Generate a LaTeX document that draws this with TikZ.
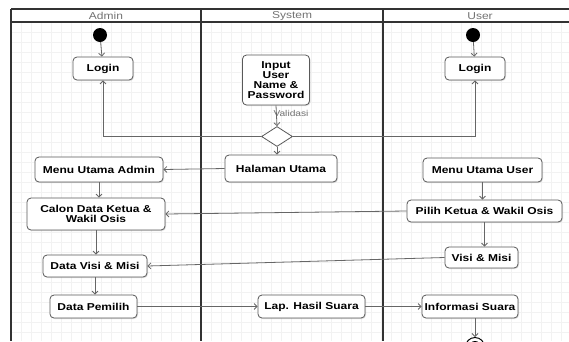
\documentclass[tikz,border=0pt]{standalone}
\usepackage{fontspec}
\setmainfont{Liberation Sans}[FakeStretch=1.2]
\usetikzlibrary{arrows.meta,shapes.geometric,shadows}
\begin{document}
\begin{tikzpicture}[x=1pt,y=-1pt,
  act/.style={draw=black!65, fill=white, rounded corners=4pt, line width=0.8pt,
    font=\bfseries\fontsize{10}{9.5}\selectfont, align=center, inner sep=1pt,
    drop shadow={opacity=0.25,shadow xshift=1pt,shadow yshift=-1pt}},
  flow/.style={draw=black!60, line width=0.8pt, -{Straight Barb[length=3pt,width=6pt]}},
  lane/.style={draw=black!80, line width=1.5pt},
  hdr/.style={text=black!55, font=\fontsize{10}{10}\selectfont},
  lbl/.style={text=black!55, font=\fontsize{8.5}{9}\selectfont, inner sep=0pt},
  startnode/.style={circle, fill=black, minimum size=14pt, inner sep=0pt},
  gridline/.style={draw=black!5, line width=0.4pt}
]
\path[use as bounding box, clip] (0,0) rectangle (569,341);
\fill[white] (0,0) rectangle (569,341);
\foreach \gx in {21,31,...,561} \draw[gridline] (\gx,22) -- (\gx,341);
\foreach \gy in {32,42,...,332} \draw[gridline] (11,\gy) -- (569,\gy);

% swimlanes
\draw[lane] (11,9) -- (569,9);
\draw[lane] (11,22) -- (569,22);
\draw[lane] (11,9) -- (11,341);
\draw[lane] (201,9) -- (201,341);
\draw[lane] (383,9) -- (383,341);
\node[hdr] (hA) at (106,16) {Admin};
\node[hdr] (hS) at (292,16) {System};
\node[hdr] (hU) at (480,16) {User};

% Admin lane
\node[startnode] (startA) at (100,35) {};
\node[act, minimum width=60pt, minimum height=23pt] (loginA) at (103,68.5) {Login};
\node[act, minimum width=128pt, minimum height=25pt] (menuA) at (99,169.5) {Menu Utama Admin};
\node[act, minimum width=138pt, minimum height=32pt] (calon) at (96,214) {Calon Data Ketua \&\\Wakil Osis};
\node[act, minimum width=104pt, minimum height=22pt] (dvisi) at (95,266) {Data Visi \& Misi};
\node[act, minimum width=87pt, minimum height=23pt] (pemilih) at (93.5,306.5) {Data Pemilih};

% System lane
\node[act, minimum width=67pt, minimum height=50pt, font=\bfseries\fontsize{10}{10}\selectfont] (input) at (276,80) {Input\\User\\Name \&\\Password};
\node[diamond, draw=black!65, fill=white, line width=0.8pt, minimum width=31pt, minimum height=20pt, inner sep=0pt] (dec) at (277,136.5) {};
\node[lbl] (val) at (291,113) {Validasi};
\node[act, minimum width=112pt, minimum height=27pt] (halaman) at (281,168.5) {Halaman Utama};
\node[act, minimum width=107pt, minimum height=23pt] (lap) at (311.5,306.5) {Lap. Hasil Suara};

% User lane
\node[startnode] (startU) at (473,35) {};
\node[act, minimum width=60pt, minimum height=23pt] (loginU) at (475,68.5) {Login};
\node[act, minimum width=119pt, minimum height=24pt] (menuU) at (482.5,170) {Menu Utama User};
\node[act, minimum width=155pt, minimum height=22pt] (pilih) at (484.5,211) {Pilih Ketua \& Wakil Osis};
\node[act, minimum width=73pt, minimum height=21pt] (visi) at (481.5,257.5) {Visi \& Misi};
\node[act, minimum width=96pt, minimum height=23pt] (info) at (470,306.5) {Informasi Suara};
\node[circle, draw=black, line width=1pt, fill=white, minimum size=19pt, inner sep=0pt] (end) at (475,347) {};
\fill[black] (end.center) circle (6);

% connectors
\draw[flow] (startA) -- (loginA);
\draw[flow] (startU) -- (loginU);
\draw[flow] (input.south) -- (dec.north);
\draw[flow] (dec.west) -| (loginA.south);
\draw[flow] (dec.east) -| (loginU.south);
\draw[flow] (dec.south) -- (dec.south |- halaman.north);
\draw[flow] (halaman.west) -- (menuA.east);
\draw[flow] (menuA.south) -- (menuA.south |- calon.north);
\draw[flow] (calon.south) -- (calon.south |- dvisi.north);
\draw[flow] (dvisi.south) -- (dvisi.south |- pemilih.north);
\draw[flow] (pilih.west) -- (calon.east);
\draw[flow] (visi.west) -- (dvisi.east);
\draw[flow] (pemilih.east) -- (lap.west);
\draw[flow] (lap.east) -- (info.west);
\draw[flow] (menuU.south) -- (menuU.south |- pilih.north);
\draw[flow] (pilih.south) -- (pilih.south |- visi.north);
\draw[flow] (end.north |- info.south) -- (end.north);
\end{tikzpicture}
\end{document}
